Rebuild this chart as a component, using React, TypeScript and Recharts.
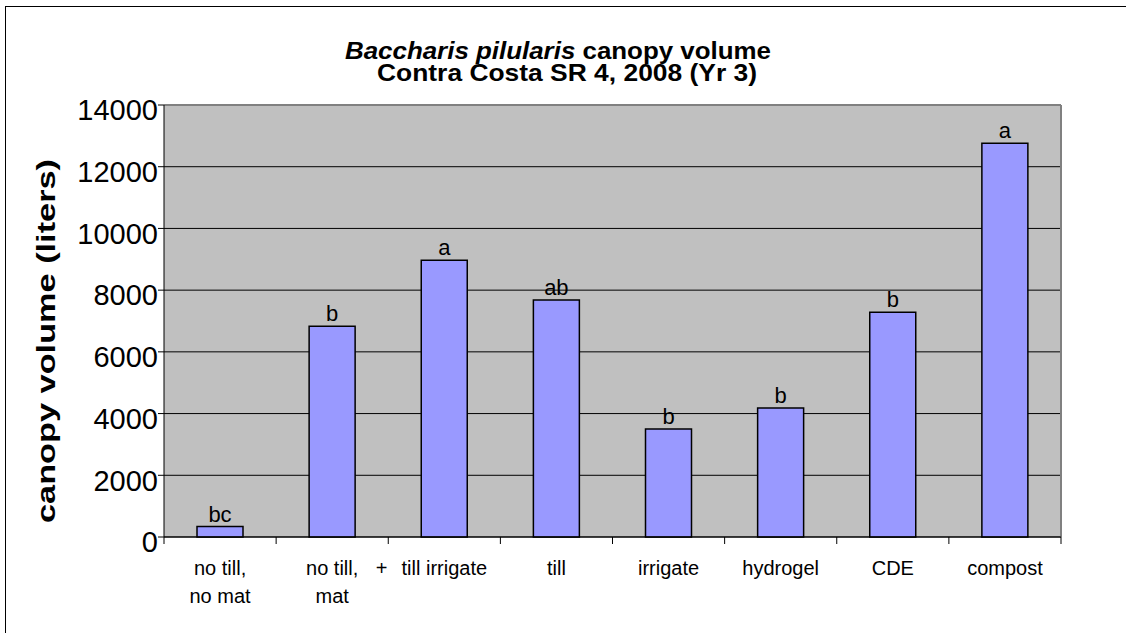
import React from 'react';
import {
  BarChart,
  Bar,
  XAxis,
  YAxis,
  CartesianGrid,
  ReferenceLine,
  LabelList,
} from 'recharts';

// treatments, canopy volume (liters), significance letters
const categories = [
  'no till,\nno mat',
  'no till,\nmat',
  '+ till irrigate',
  'till',
  'irrigate',
  'hydrogel',
  'CDE',
  'compost',
];
const volumes = [340, 6830, 8970, 7680, 3500, 4180, 7280, 12760];
const letters = ['bc', 'b', 'a', 'ab', 'b', 'b', 'b', 'a'];
const yTicks = [0, 2000, 4000, 6000, 8000, 10000, 12000, 14000];
const edgeTicks = [0, 0.5, 1, 1.5, 2, 2.5, 3, 3.5, 4, 4.5, 5, 5.5, 6, 6.5, 7, 7.5, 8];

const FONT = '"Liberation Sans", Arial, sans-serif';

const data = categories.map((name, i) => ({
  name,
  pos: i + 0.5,
  volume: volumes[i],
  letter: letters[i],
}));

// draws the boundary tick marks and the category names between them
const EdgeTick = (props: any) => {
  const { x, y, payload } = props;
  const v = payload.value;
  if (Number.isInteger(v)) {
    return <line x1={x} x2={x} y1={y} y2={y + 7} stroke="#000" strokeWidth={1} />;
  }
  const label = categories[Math.floor(v)] || '';
  if (label.startsWith('+ ')) {
    return (
      <g>
        <text x={x - 57} y={y + 38} textAnchor="end" fontSize={20} fill="#000" fontFamily={FONT}>
          +
        </text>
        <text x={x} y={y + 38} textAnchor="middle" fontSize={20} fill="#000" fontFamily={FONT}>
          {label.slice(2)}
        </text>
      </g>
    );
  }
  return (
    <g>
      {label.split('\n').map((line, i) => (
        <text
          key={i}
          x={x}
          y={y + 38 + i * 28}
          textAnchor="middle"
          fontSize={20}
          fill="#000"
          fontFamily={FONT}
        >
          {line}
        </text>
      ))}
    </g>
  );
};

const LetterLabel = (props: any) => {
  const { x, y, width, index } = props;
  return (
    <text
      x={x + width / 2}
      y={y - 5}
      textAnchor="middle"
      fontSize={22}
      fill="#000"
      fontFamily={FONT}
    >
      {letters[index]}
    </text>
  );
};

export default function App() {
  return (
    <div
      style={{
        position: 'absolute',
        left: 0,
        top: 0,
        width: 1126,
        height: 633,
        background: '#fff',
        overflow: 'hidden',
        fontFamily: FONT,
      }}
    >
      {/* chart frame: only top and left edges are visible */}
      <div
        style={{
          position: 'absolute',
          left: 5,
          top: 6,
          right: -10,
          bottom: -10,
          borderLeft: '1px solid #000',
          borderTop: '1px solid #000',
        }}
      />
      <BarChart
        width={1126}
        height={633}
        data={data}
        margin={{ top: 105, right: 65, bottom: 6, left: 104 }}
        style={{ position: 'absolute', left: 0, top: 0 }}
      >
        <CartesianGrid vertical={false} stroke="#000" strokeWidth={1} fill="#C0C0C0" fillOpacity={1} />
        <XAxis dataKey="name" hide height={0} />
        <XAxis
          xAxisId="edges"
          dataKey="pos"
          type="number"
          domain={[0, 8]}
          allowDataOverflow
          ticks={edgeTicks}
          interval={0}
          height={90}
          tickLine={false}
          tickSize={0}
          tickMargin={0}
          axisLine={{ stroke: '#000', strokeWidth: 1 }}
          tick={<EdgeTick />}
        />
        <YAxis
          domain={[0, 14000]}
          ticks={yTicks}
          interval={0}
          width={60}
          tickSize={6}
          tickMargin={0}
          tickLine={{ stroke: '#000' }}
          axisLine={{ stroke: '#000', strokeWidth: 1 }}
          tick={{ fontSize: 29, fill: '#000', fontFamily: FONT, dy: 5 }}
        />
        <ReferenceLine y={14000} stroke="#808080" strokeWidth={2} />
        <ReferenceLine xAxisId="edges" x={8} stroke="#808080" strokeWidth={2} />
        <Bar
          dataKey="volume"
          fill="#9999FF"
          stroke="#000"
          strokeWidth={1.5}
          barSize={46}
          isAnimationActive={false}
        >
          <LabelList dataKey="letter" content={<LetterLabel />} />
        </Bar>
      </BarChart>
      <svg
        width={1126}
        height={633}
        style={{ position: 'absolute', left: 0, top: 0, pointerEvents: 'none' }}
      >
        <text
          x={558}
          y={59}
          textAnchor="middle"
          fontSize={24}
          fontWeight="bold"
          fill="#000"
          fontFamily={FONT}
          textLength={426}
          lengthAdjust="spacingAndGlyphs"
        >
          <tspan fontStyle="italic">Baccharis pilularis</tspan> canopy volume
        </text>
        <text
          x={567}
          y={81}
          textAnchor="middle"
          fontSize={24}
          fontWeight="bold"
          fill="#000"
          fontFamily={FONT}
          textLength={380}
          lengthAdjust="spacingAndGlyphs"
        >
          Contra Costa SR 4, 2008 (Yr 3)
        </text>
        <text
          transform="translate(55, 341) rotate(-90)"
          textAnchor="middle"
          fontSize={25}
          fontWeight="bold"
          fill="#000"
          fontFamily={FONT}
          textLength={364}
          lengthAdjust="spacingAndGlyphs"
        >
          canopy volume (liters)
        </text>
      </svg>
    </div>
  );
}
